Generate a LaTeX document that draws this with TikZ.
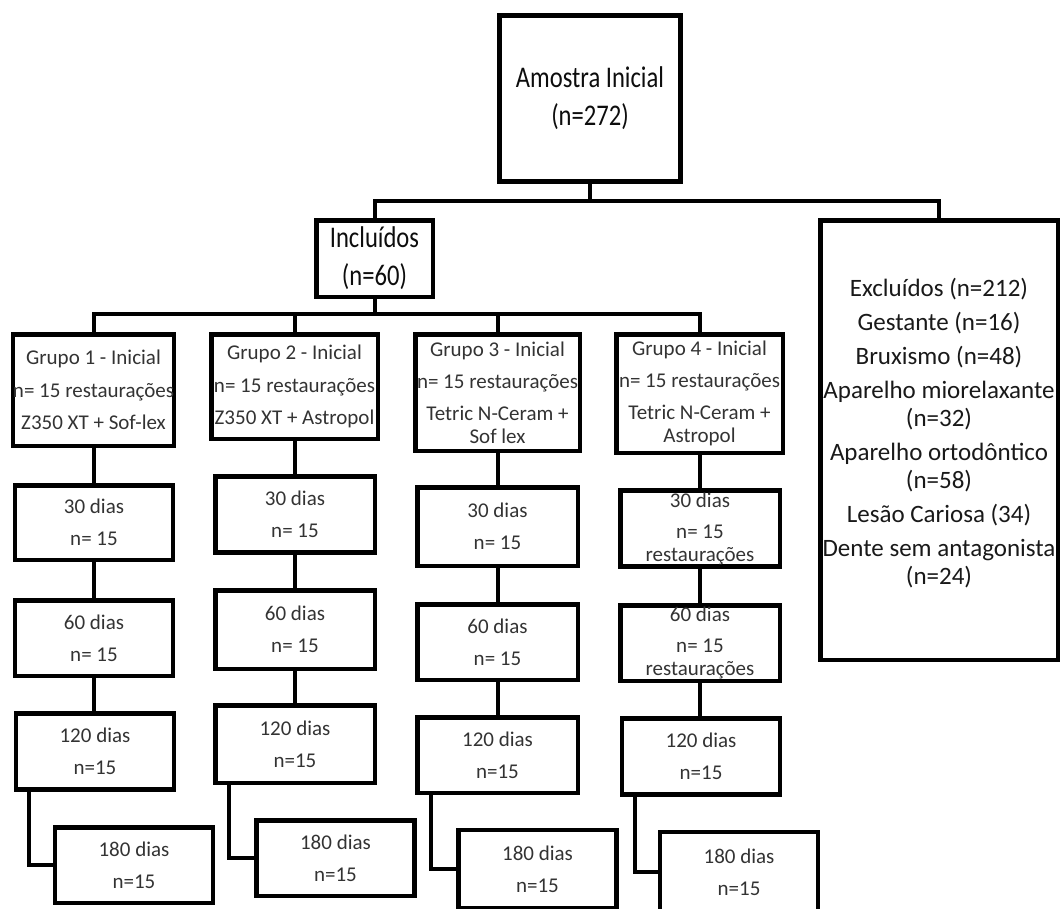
\documentclass[tikz,border=0pt]{standalone}
\usepackage{fontspec}
\setmainfont{Carlito}
\newfontfamily\bigfont[FakeStretch=0.82]{Carlito}
\begin{document}
\begin{tikzpicture}[x=1pt,y=-1pt,
  bx/.style={draw, line width=4.5pt, inner sep=0pt, align=center},
  small/.style={bx, text=black!80, font=\fontsize{21}{23}\selectfont},
  tbox/.style={small, minimum width=158pt, minimum height=76pt},
  big/.style={bx, text=black!95, font=\bigfont\fontsize{30}{38}\selectfont},
  link/.style={line width=4pt},
]
\useasboundingbox (0,0) rectangle (1062,908);
% top level
\node[big, line width=5pt, minimum width=181pt, minimum height=166pt] (top) at (590,98.5) {Amostra Inicial\\(n=272)};
\node[big, minimum width=116.5pt, minimum height=76.5pt] (incl) at (374.5,258.5) {Incluídos\\(n=60)};
\node[bx, minimum width=237.5pt, minimum height=439.5pt] (excl) at (939,440) {};
\node[font=\fontsize{25}{28}\selectfont, align=center, text=black!90, inner sep=0pt] (exct) at (939,433)
 {Excluídos (n=212)\\[6pt]Gestante (n=16)\\[6pt]Bruxismo (n=48)\\[6pt]Aparelho miorelaxante\\(n=32)\\[6pt]Aparelho ortodôntico\\(n=58)\\[6pt]Lesão Cariosa (34)\\[6pt]Dente sem antagonista\\(n=24)};
% groups
\node[small, minimum width=161pt, minimum height=111.5pt] (g1) at (93.5,390) {Grupo 1 - Inicial\\[9.5pt]n= 15 restaurações\\[9.5pt]Z350 XT + Sof-lex};
\node[small, minimum width=166.5pt, minimum height=104.5pt] (g2) at (294.5,386.5) {Grupo 2 - Inicial\\[9.5pt]n= 15 restaurações\\[9.5pt]Z350 XT + Astropol};
\node[small, minimum width=164.5pt, minimum height=116.5pt] (g3) at (497.5,392.5) {Grupo 3 - Inicial\\[9pt]n= 15 restaurações\\[9pt]Tetric N-Ceram +\\Sof lex};
\node[small, minimum width=166.5pt, minimum height=118.5pt] (g4) at (699.5,393.5) {Grupo 4 - Inicial\\[9pt]n= 15 restaurações\\[9pt]Tetric N-Ceram +\\Astropol};
% column 1
\node[tbox, minimum height=74.5pt] (g1a) at (94,522.5) {30 dias\\[9pt]n= 15};
\node[tbox, minimum height=75.5pt] (g1b) at (94,638) {60 dias\\[9pt]n= 15};
\node[tbox] (g1c) at (95,751.5) {120 dias\\[9pt]n=15};
\node[tbox, minimum height=75.5pt] (g1d) at (134,865) {180 dias\\[9pt]n=15};
% column 2
\node[tbox, minimum width=159.5pt] (g2a) at (295,514.5) {30 dias\\[9pt]n= 15};
\node[tbox, minimum width=159.5pt, minimum height=78.5pt] (g2b) at (295,629.5) {60 dias\\[9pt]n= 15};
\node[tbox, minimum width=159.5pt, minimum height=77.5pt] (g2c) at (295,744) {120 dias\\[9pt]n=15};
\node[tbox, minimum height=75.5pt] (g2d) at (335.5,858) {180 dias\\[9pt]n=15};
% column 3
\node[tbox, minimum width=160.5pt, minimum height=78.5pt] (g3a) at (497.5,526.5) {30 dias\\[9pt]n= 15};
\node[tbox, minimum width=160.5pt, minimum height=75.5pt] (g3b) at (497.5,642) {60 dias\\[9pt]n= 15};
\node[tbox, minimum width=160.5pt, minimum height=75.5pt] (g3c) at (497.5,755) {120 dias\\[9pt]n=15};
\node[tbox, minimum height=78pt] (g3d) at (537.5,869) {180 dias\\[9pt]n=15};
% column 4
\node[tbox, minimum width=159.5pt] (g4a) at (700,528.5) {30 dias\\[8pt]n= 15\\restaurações};
\node[tbox, minimum width=159.5pt, minimum height=75.5pt] (g4b) at (700,643) {60 dias\\[8pt]n= 15\\restaurações};
\node[tbox] (g4c) at (701,756.5) {120 dias\\[9pt]n=15};
\node[tbox, minimum height=80pt] (g4d) at (739,872) {180 dias\\[9pt]n=15};
% connectors
\coordinate (j1) at (590,201);
\coordinate (j2) at (374.5,314);
\draw[link] (top.south) -- (j1);
\draw[link] (incl.north) |- (j1) -| (excl.north);
\draw[link] (incl.south) -- (j2);
\draw[link] (g1.north) |- (j2) -| (g4.north);
\draw[link] (g2.north) -- (g2.north |- j2);
\draw[link] (g3.north) -- (g3.north |- j2);
\foreach \g in {g1,g2,g3,g4}{
  \draw[link] (\g.south) -- (\g.south |- \g a.north);
  \draw[link] (\g a.south) -- (\g a.south |- \g b.north);
  \draw[link] (\g b.south) -- (\g b.south |- \g c.north);
  \draw[link] ([xshift=15.5pt]\g c.south west) |- (\g d.west);
}
\end{tikzpicture}
\end{document}
